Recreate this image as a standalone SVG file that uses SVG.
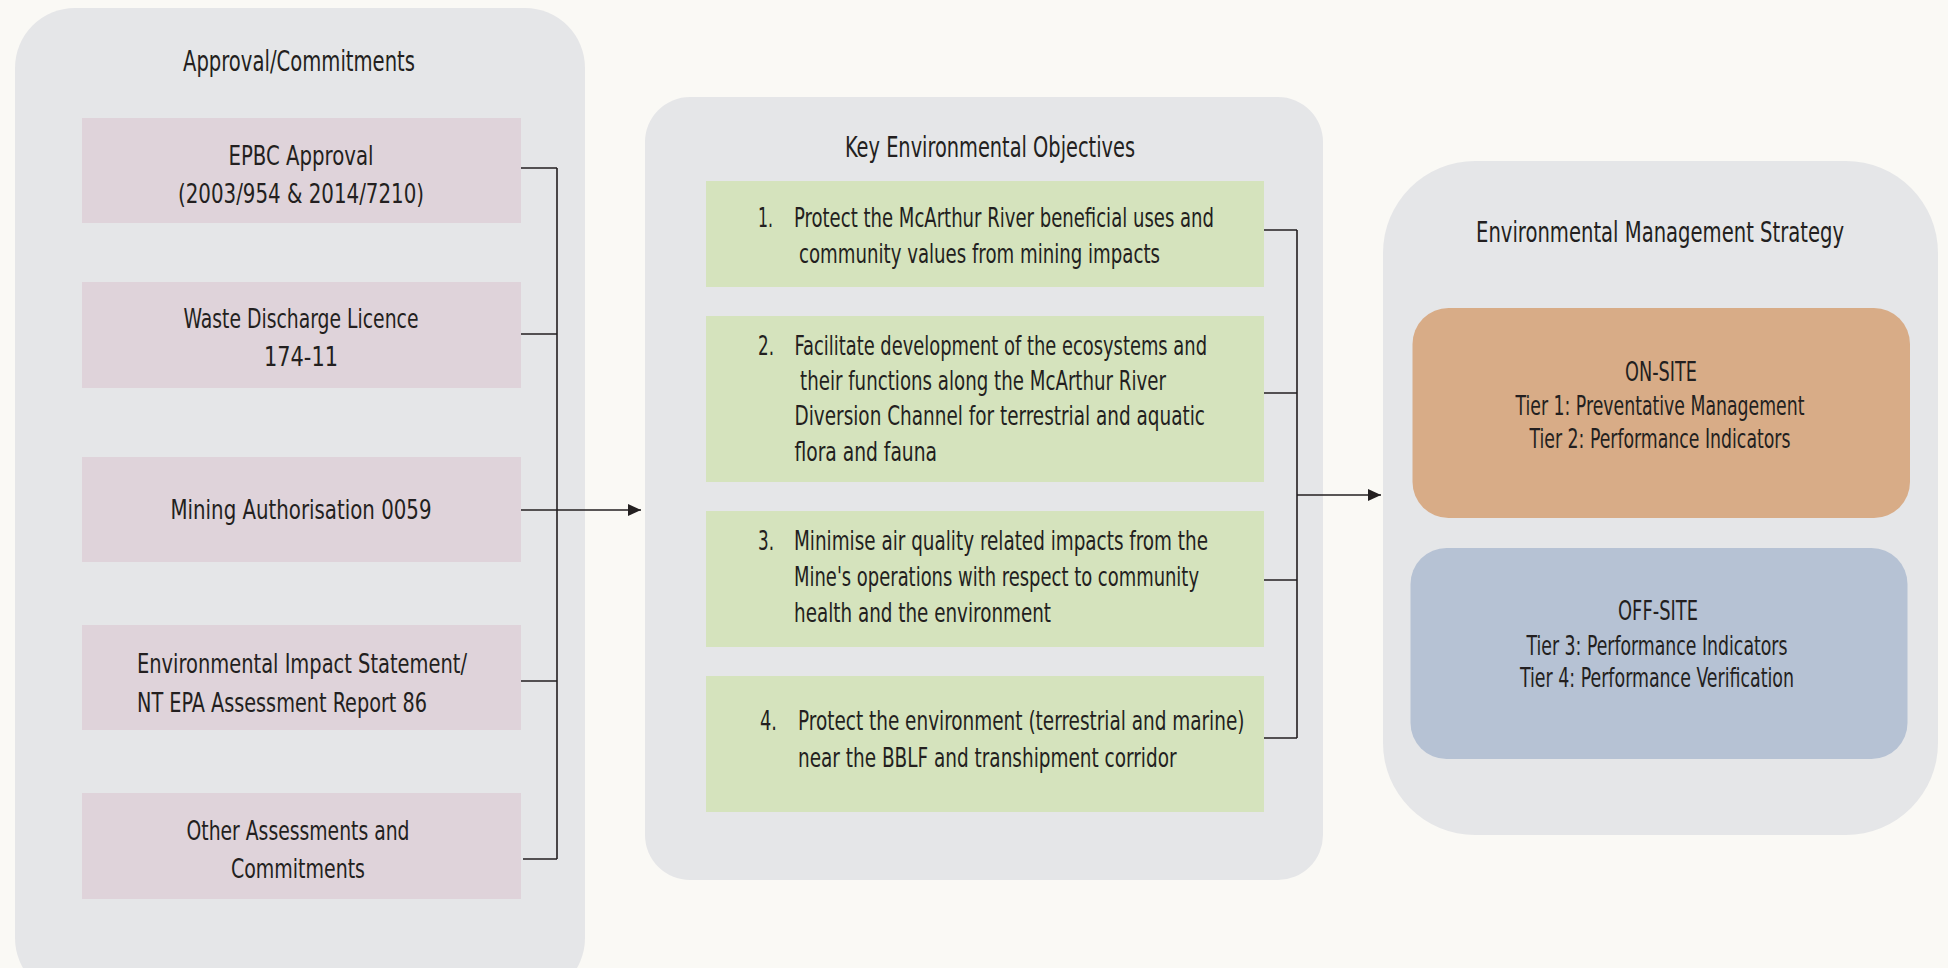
<svg xmlns="http://www.w3.org/2000/svg" width="1948" height="968" viewBox="0 0 1948 968">
<defs>
<style>
.panel{fill:#E5E6E8}
.pink{fill:#DFD3DA}
.green{fill:#D5E3BD}
.orange{fill:#D8AC87}
.blue{fill:#B6C2D4}
text{font-family:"Liberation Sans Narrow","DejaVu Sans Condensed","Liberation Sans",Arial,sans-serif;fill:#231F20;font-size:27px}
.title{font-size:29px}
.c{text-anchor:middle}
.conn{fill:none;stroke:#231F20;stroke-width:1.6}
</style>
<marker id="arr" markerUnits="userSpaceOnUse" markerWidth="14" markerHeight="14" refX="13" refY="7" orient="auto">
<path d="M0,1 L13,7 L0,13 z" fill="#231F20"/>
</marker>
</defs>
<rect width="1948" height="968" fill="#FAF9F5"/>

<g id="panel-approvals">
<rect class="panel" x="15" y="8" width="570" height="990" rx="60" ry="60"/>
<text class="title c" x="299" y="71" textLength="232" lengthAdjust="spacingAndGlyphs">Approval/Commitments</text>
</g>
<g id="node-epbc">
<rect class="pink" x="82" y="118" width="439" height="105"/>
<text class="c" x="301" y="165" textLength="145" lengthAdjust="spacingAndGlyphs">EPBC Approval</text>
<text class="c" x="301" y="203" textLength="246" lengthAdjust="spacingAndGlyphs">(2003/954 &amp; 2014/7210)</text>
</g>
<g id="node-wdl">
<rect class="pink" x="82" y="282" width="439" height="106"/>
<text class="c" x="301" y="328" textLength="235" lengthAdjust="spacingAndGlyphs">Waste Discharge Licence</text>
<text class="c" x="301" y="366" textLength="74" lengthAdjust="spacingAndGlyphs">174-11</text>
</g>
<g id="node-mining">
<rect class="pink" x="82" y="457" width="439" height="105"/>
<text class="c" x="301" y="519" textLength="261" lengthAdjust="spacingAndGlyphs">Mining Authorisation 0059</text>
</g>
<g id="node-eis">
<rect class="pink" x="82" y="625" width="439" height="105"/>
<text x="137" y="673" textLength="330" lengthAdjust="spacingAndGlyphs">Environmental Impact Statement/</text>
<text x="137" y="712" textLength="290" lengthAdjust="spacingAndGlyphs">NT EPA Assessment Report 86</text>
</g>
<g id="node-other">
<rect class="pink" x="82" y="793" width="439" height="106"/>
<text class="c" x="298" y="840" textLength="223" lengthAdjust="spacingAndGlyphs">Other Assessments and</text>
<text class="c" x="298" y="878" textLength="134" lengthAdjust="spacingAndGlyphs">Commitments</text>
</g>

<g id="panel-objectives">
<rect class="panel" x="645" y="97" width="678" height="783" rx="45" ry="45"/>
<text class="title c" x="990" y="157" textLength="290" lengthAdjust="spacingAndGlyphs">Key Environmental Objectives</text>
</g>
<g id="node-obj1">
<rect class="green" x="706" y="181" width="558" height="106"/>
<text x="758" y="227" textLength="15" lengthAdjust="spacingAndGlyphs">1.</text>
<text x="794" y="227" textLength="420" lengthAdjust="spacingAndGlyphs">Protect the McArthur River beneficial uses and</text>
<text x="799" y="263" textLength="361" lengthAdjust="spacingAndGlyphs">community values from mining impacts</text>
</g>
<g id="node-obj2">
<rect class="green" x="706" y="316" width="558" height="166"/>
<text x="758" y="355" textLength="16" lengthAdjust="spacingAndGlyphs">2.</text>
<text x="794.5" y="355" textLength="412.5" lengthAdjust="spacingAndGlyphs">Facilitate development of the ecosystems and</text>
<text x="800" y="390" textLength="366" lengthAdjust="spacingAndGlyphs">their functions along the McArthur River</text>
<text x="794.5" y="425" textLength="410.5" lengthAdjust="spacingAndGlyphs">Diversion Channel for terrestrial and aquatic</text>
<text x="794.5" y="461" textLength="142.5" lengthAdjust="spacingAndGlyphs">flora and fauna</text>
</g>
<g id="node-obj3">
<rect class="green" x="706" y="511" width="558" height="136"/>
<text x="758" y="550" textLength="16" lengthAdjust="spacingAndGlyphs">3.</text>
<text x="794" y="550" textLength="414" lengthAdjust="spacingAndGlyphs">Minimise air quality related impacts from the</text>
<text x="794" y="586" textLength="405" lengthAdjust="spacingAndGlyphs">Mine's operations with respect to community</text>
<text x="794" y="622" textLength="257" lengthAdjust="spacingAndGlyphs">health and the environment</text>
</g>
<g id="node-obj4">
<rect class="green" x="706" y="676" width="558" height="136"/>
<text x="760" y="730" textLength="17" lengthAdjust="spacingAndGlyphs">4.</text>
<text x="798" y="730" textLength="446.5" lengthAdjust="spacingAndGlyphs">Protect the environment (terrestrial and marine)</text>
<text x="798" y="767" textLength="378.5" lengthAdjust="spacingAndGlyphs">near the BBLF and transhipment corridor</text>
</g>

<g id="panel-strategy">
<rect class="panel" x="1383" y="161" width="555" height="674" rx="92" ry="92"/>
<text class="title c" x="1660" y="242" textLength="368" lengthAdjust="spacingAndGlyphs">Environmental Management Strategy</text>
</g>
<g id="node-onsite">
<rect class="orange" x="1412.5" y="308" width="497.5" height="210" rx="36" ry="36"/>
<text class="c" x="1661" y="381" textLength="72" lengthAdjust="spacingAndGlyphs">ON-SITE</text>
<text class="c" x="1660" y="415" textLength="289" lengthAdjust="spacingAndGlyphs">Tier 1: Preventative Management</text>
<text class="c" x="1660" y="448" textLength="261" lengthAdjust="spacingAndGlyphs">Tier 2: Performance Indicators</text>
</g>
<g id="node-offsite">
<rect class="blue" x="1410.5" y="548" width="497" height="211" rx="36" ry="36"/>
<text class="c" x="1658" y="620" textLength="80" lengthAdjust="spacingAndGlyphs">OFF-SITE</text>
<text class="c" x="1657" y="655" textLength="261" lengthAdjust="spacingAndGlyphs">Tier 3: Performance Indicators</text>
<text class="c" x="1657" y="687" textLength="274" lengthAdjust="spacingAndGlyphs">Tier 4: Performance Verification</text>
</g>

<g id="connectors">
<path class="conn" d="M521,168 H557 M521,334 H557 M521,681 H557 M523,859 H557 M557,168 V859"/>
<path class="conn" d="M521,510 H641" marker-end="url(#arr)"/>
<path class="conn" d="M1264,230 H1297 M1264,393 H1297 M1264,580 H1297 M1264,738 H1297 M1297,230 V738"/>
<path class="conn" d="M1297,495 H1381" marker-end="url(#arr)"/>
</g>
</svg>
